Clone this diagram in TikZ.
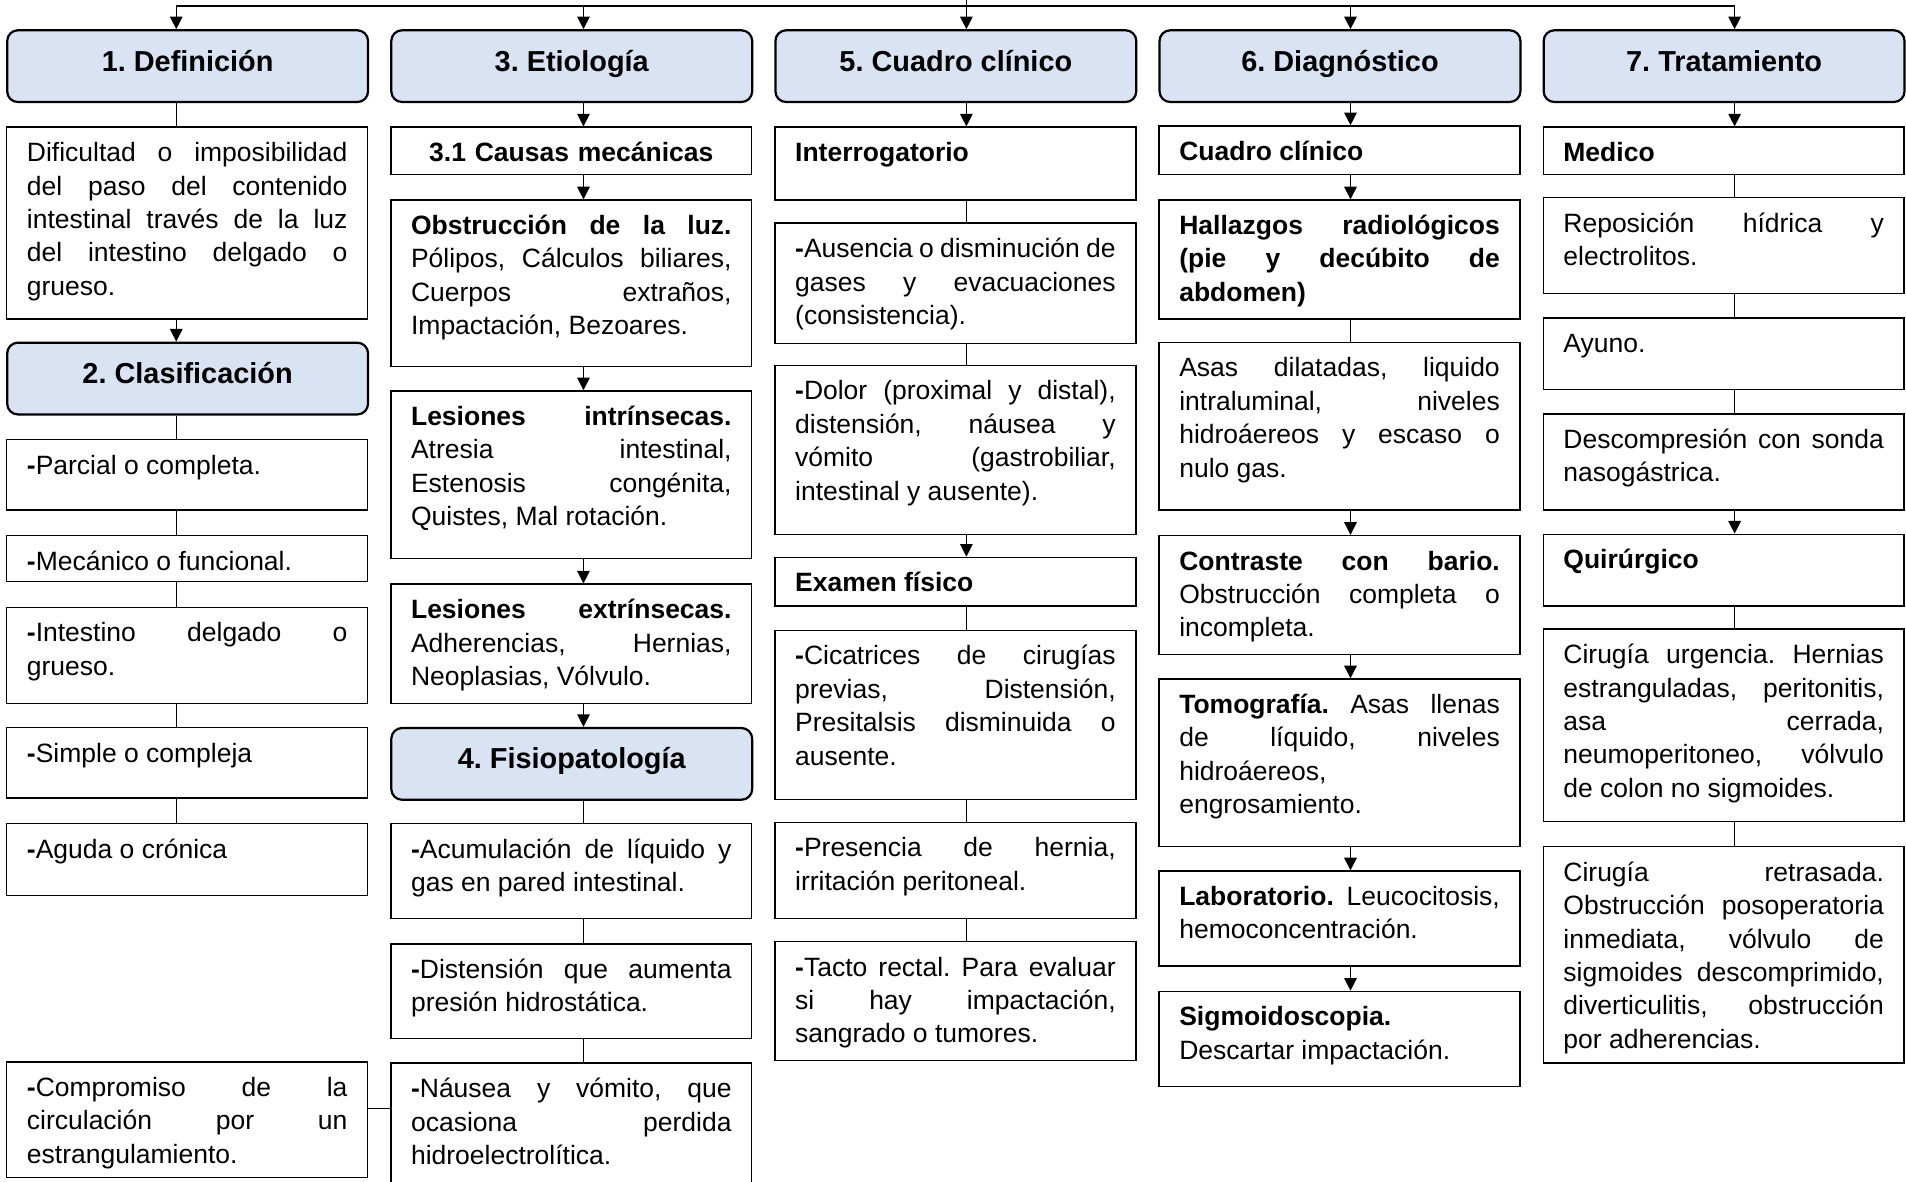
\documentclass[tikz,border=0pt]{standalone}
\usepackage{fontspec}
\setmainfont{Liberation Sans}
\usetikzlibrary{arrows.meta}
\definecolor{azul}{HTML}{DAE3F3}
\hyphenpenalty=10000
\tolerance=10000
\hbadness=10000
\frenchspacing

\begin{document}
\begin{tikzpicture}[x=0.025cm,y=-0.025cm]
		\tikzstyle{titulo} = [draw,line width=1.3pt,rounded corners=0.22cm,fill=azul,anchor=north west,minimum width=7.42cm,minimum height=1.475cm,inner sep=0pt,text height=0.4cm,text depth=0.2cm,font=\fontsize{16.9}{19.5}\selectfont\bfseries];
		\tikzstyle{caja} = [draw,line width=0.8pt,anchor=north west,text width=6.59cm,inner xsep=0.415cm,inner ysep=0pt,text height=0.71cm,align=justify,font=\fontsize{15.5}{19.56}\selectfont\frenchspacing];
		\tikzstyle{linea} = [line width=0.5pt];
		\tikzstyle{flecha} = [->,>={Triangle[length=2.6mm,width=2.6mm]},line width=0.6pt];
		\tikzset{alto/.code={\pgfmathsetlengthmacro\prof{#1*0.025cm-0.71cm}\edef\tmp{\noexpand\tikzset{text depth=\prof}}\tmp}}
		
		\useasboundingbox (0,0) rectangle (1568,972);
		\clip (0,0) rectangle (1568,972);
		
		% ejes de cada columna
		\foreach \i/\x in {1/145,2/480,3/795,4/1111,5/1427}{
			\coordinate (s\i) at (\x,5);
		}
		
		\foreach \n/\x/\y/\t in {h1/5/24/1. Definición,h2/5/281/2. Clasificación,h3/321/24/3. Etiología,h4/321/598/4. Fisiopatología,h5/637/24/5. Cuadro clínico,h6/953/24/6. Diagnóstico,h7/1269/24/7. Tratamiento}{
			\node[titulo] (\n) at (\x,\y) {\t};
		}
		
		% 1. y 2.
		\node[caja,alto=158] (def) at (5,104) {Dificultad o imposibilidad\linebreak del paso del contenido\linebreak intestinal través de la luz\linebreak del intestino delgado o\linebreak grueso.};
		\node[caja,alto=58] (c1) at (5,361) {\textbf{-}Parcial o completa.};
		\node[caja,alto=38] (c2) at (5,440) {\textbf{-}Mecánico o funcional.};
		\node[caja,alto=79] (c3) at (5,499) {\textbf{-}Intestino delgado o\linebreak grueso.};
		\node[caja,alto=58] (c4) at (5,598) {\textbf{-}Simple o compleja};
		\node[caja,alto=59] (c5) at (5,677) {\textbf{-}Aguda o crónica};
		\node[caja,alto=95] (c6) at (5,873) {\textbf{-}Compromiso de la\linebreak circulación por un\linebreak estrangulamiento.};
		
		% 3. y 4.
		\node[caja,alto=39,align=center] (e1) at (321,104) {\textbf{3.1 Causas mecánicas}};
		\node[caja,alto=137] (e2) at (321,164) {\textbf{Obstrucción de la luz.}\linebreak Pólipos, Cálculos biliares,\linebreak Cuerpos extraños,\linebreak Impactación, Bezoares.};
		\node[caja,alto=138] (e3) at (321,321) {\textbf{Lesiones intrínsecas.}\linebreak Atresia intestinal,\linebreak Estenosis congénita,\linebreak Quistes, Mal rotación.};
		\node[caja,alto=98] (e4) at (321,480) {\textbf{Lesiones extrínsecas.}\linebreak Adherencias, Hernias,\linebreak Neoplasias, Vólvulo.};
		\node[caja,alto=78] (f1) at (321,677) {\textbf{-}Acumulación de líquido y\linebreak gas en pared intestinal.};
		\node[caja,alto=78] (f2) at (321,776) {\textbf{-}Distensión que aumenta\linebreak presión hidrostática.};
		\node[caja,alto=120] (f3) at (321,874) {\textbf{-}Náusea y vómito, que\linebreak ocasiona perdida\linebreak hidroelectrolítica.};
		
		% 5.
		\node[caja,alto=60] (k1) at (637,104) {\textbf{Interrogatorio}};
		\node[caja,alto=99] (k2) at (637,183) {\textbf{-}Ausencia o disminución de\linebreak gases y evacuaciones\linebreak (consistencia).};
		\node[caja,alto=139] (k3) at (637,300) {\textbf{-}Dolor (proximal y distal),\linebreak distensión, náusea y\linebreak vómito (gastrobiliar,\linebreak intestinal y ausente).};
		\node[caja,alto=40] (k4) at (637,458) {\textbf{Examen físico}};
		\node[caja,alto=139] (k5) at (637,518) {\textbf{-}Cicatrices de cirugías\linebreak previas, Distensión,\linebreak Presitalsis disminuida o\linebreak ausente.};
		\node[caja,alto=79] (k6) at (637,676) {\textbf{-}Presencia de hernia,\linebreak irritación peritoneal.};
		\node[caja,alto=98] (k7) at (637,774) {\textbf{-}Tacto rectal. Para evaluar\linebreak si hay impactación,\linebreak sangrado o tumores.};
		
		% 6.
		\node[caja,alto=40] (d1) at (953,103) {\textbf{Cuadro clínico}};
		\node[caja,alto=98] (d2) at (953,164) {\textbf{Hallazgos radiológicos\linebreak (pie y decúbito de\linebreak abdomen)}};
		\node[caja,alto=138] (d3) at (953,281) {Asas dilatadas, liquido\linebreak intraluminal, niveles\linebreak hidroáereos y escaso o\linebreak nulo gas.};
		\node[caja,alto=98] (d4) at (953,440) {\textbf{Contraste con bario.}\linebreak Obstrucción completa o\linebreak incompleta.};
		\node[caja,alto=138] (d5) at (953,558) {\textbf{Tomografía.} Asas llenas\linebreak de líquido, niveles\linebreak hidroáereos,\\ engrosamiento.};
		\node[caja,alto=78] (d6) at (953,716) {\textbf{Laboratorio.} Leucocitosis,\linebreak hemoconcentración.};
		\node[caja,alto=78] (d7) at (953,815) {\textbf{Sigmoidoscopia.}\\ Descartar impactación.};
		
		% 7.
		\node[caja,alto=39] (t1) at (1269,104) {\textbf{Medico}};
		\node[caja,alto=79] (t2) at (1269,162) {Reposición hídrica y\linebreak electrolitos.};
		\node[caja,alto=59] (t3) at (1269,261) {Ayuno.};
		\node[caja,alto=79] (t4) at (1269,340) {Descompresión con sonda\linebreak nasogástrica.};
		\node[caja,alto=59] (t5) at (1269,439) {\textbf{Quirúrgico}};
		\node[caja,alto=158] (t6) at (1269,517) {Cirugía urgencia. Hernias\linebreak estranguladas, peritonitis,\linebreak asa cerrada,\linebreak neumoperitoneo, vólvulo\linebreak de colon no sigmoides.};
		\node[caja,alto=178] (t7) at (1269,696) {Cirugía retrasada.\linebreak Obstrucción posoperatoria\linebreak inmediata, vólvulo de\linebreak sigmoides descomprimido,\linebreak diverticulitis, obstrucción\linebreak por adherencias.};
		
		% conectores
		\draw[line width=0.8pt] (s1) -- (s5);
		\draw[line width=0.8pt] (s3) -- ++(0,-10);
		\foreach \s/\h in {s1/h1,s2/h3,s3/h5,s4/h6,s5/h7}{
			\draw[flecha] (\s) -- (\h.north -| \s);
		}
		\foreach \a/\b/\s in {def/h2/s1,h3/e1/s2,e1/e2/s2,e2/e3/s2,e3/e4/s2,e4/h4/s2,h5/k1/s3,k3/k4/s3,h6/d1/s4,d1/d2/s4,d3/d4/s4,d4/d5/s4,d5/d6/s4,d6/d7/s4,h7/t1/s5,t4/t5/s5}{
			\draw[flecha] (\a.south -| \s) -- (\b.north -| \s);
		}
		\foreach \a/\b/\s in {h1/def/s1,h2/c1/s1,c1/c2/s1,c2/c3/s1,c3/c4/s1,c4/c5/s1,h4/f1/s2,f1/f2/s2,f2/f3/s2,k1/k2/s3,k2/k3/s3,k4/k5/s3,k5/k6/s3,k6/k7/s3,d2/d3/s4,t1/t2/s5,t2/t3/s5,t3/t4/s5,t5/t6/s5,t6/t7/s5}{
			\draw[linea] (\a.south -| \s) -- (\b.north -| \s);
		}
		\coordinate (cruce) at (0,912);
		\draw[linea] (c6.east |- cruce) -- (f3.west |- cruce);
		
	\end{tikzpicture}
\end{document}
